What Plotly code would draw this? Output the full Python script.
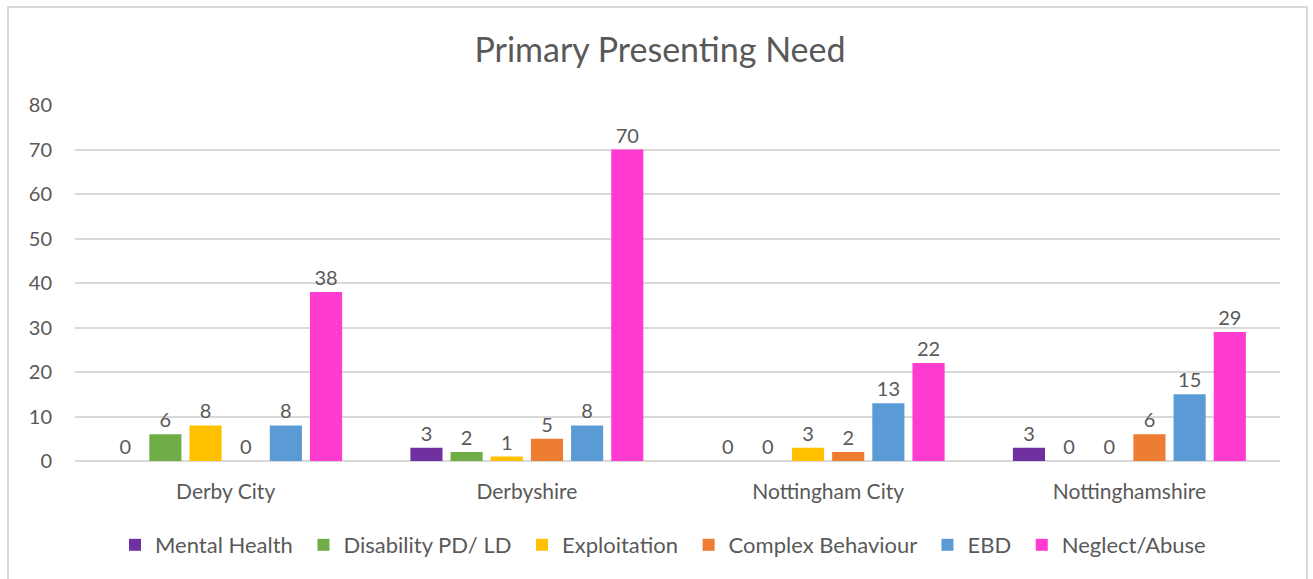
import plotly.graph_objects as go

categories = ["Derby City", "Derbyshire", "Nottingham City", "Nottinghamshire"]
series_names = ["Mental Health", "Disability PD/ LD", "Exploitation", "Complex Behaviour", "EBD", "Neglect/Abuse"]
mental_health = [0, 3, 0, 3]
disability = [6, 2, 0, 0]
exploitation = [8, 1, 3, 0]
complex_behaviour = [0, 5, 2, 6]
ebd = [8, 8, 13, 15]
neglect_abuse = [38, 70, 22, 29]
colors = ["#7030A0", "#70AD47", "#FFC000", "#ED7D31", "#5B9BD5", "#FF3BD0"]
y_ticks = [0, 10, 20, 30, 40, 50, 60, 70, 80]

values = [mental_health, disability, exploitation, complex_behaviour, ebd, neglect_abuse]

FONT = "Lato, 'Open Sans', sans-serif"
GREY = "#595959"

fig = go.Figure()
for i, (name, vals, col) in enumerate(zip(series_names, values, colors)):
    pad = " " if i < len(series_names) - 1 else ""
    fig.add_trace(go.Bar(
        x=categories, y=vals, name=name + pad,
        marker=dict(color=col, line=dict(width=0)),
        text=[str(v) for v in vals], textposition="outside",
        textfont=dict(size=20, color=GREY, family=FONT),
        cliponaxis=False,
    ))

OFF = 0  # body margin removed via post_script
W, H = 1313, 579
# plot area in page pixels: x 75..1280, y 105..461
L = 75 - OFF
T = 105 - OFF
R = W - (1280 - OFF)
B = H - (461 - OFF)
pw, ph = W - L - R, H - T - B

def px_x(p):
    return (p - OFF - L) / pw

def px_y(p):
    return (H - B - (p - OFF)) / ph

fig.update_layout(
    width=W, height=H,
    margin=dict(l=L, r=R, t=T, b=B),
    paper_bgcolor="white", plot_bgcolor="white",
    font=dict(family=FONT, color=GREY, size=20),
    title=dict(text="Primary Presenting Need", x=(660 - OFF) / W, xanchor="center", xref="container",
               y=1 - (50 - OFF) / H, yref="container", yanchor="middle",
               font=dict(size=34, color=GREY, family=FONT)),
    barmode="group", bargap=0.2, bargroupgap=0.2,
    showlegend=True,
    legend=dict(orientation="h", x=px_x(663), xanchor="center", y=px_y(545), yanchor="middle",
                font=dict(size=22, color=GREY, family=FONT), itemwidth=30,
                traceorder="normal"),
    xaxis=dict(showgrid=False, showline=False, ticks="", ticklabelstandoff=16,
               tickfont=dict(size=21, color=GREY, family=FONT)),
    yaxis=dict(range=[0, 80], tickvals=y_ticks, showgrid=True, gridcolor="#D9D9D9",
               gridwidth=1.5, zeroline=True, zerolinecolor="#D9D9D9", zerolinewidth=1.5,
               ticks="", ticklabelstandoff=22,
               tickfont=dict(size=20, color=GREY, family=FONT)),
    shapes=[dict(type="rect", xref="paper", yref="paper",
                 x0=px_x(8), x1=px_x(1307), y0=px_y(595), y1=px_y(7),
                 line=dict(color="#D9D9D9", width=2), fillcolor="rgba(0,0,0,0)", layer="below")],
)

fig.write_html("out.html", config={"displayModeBar": False},
               post_script="document.body.style.margin='0px';")
